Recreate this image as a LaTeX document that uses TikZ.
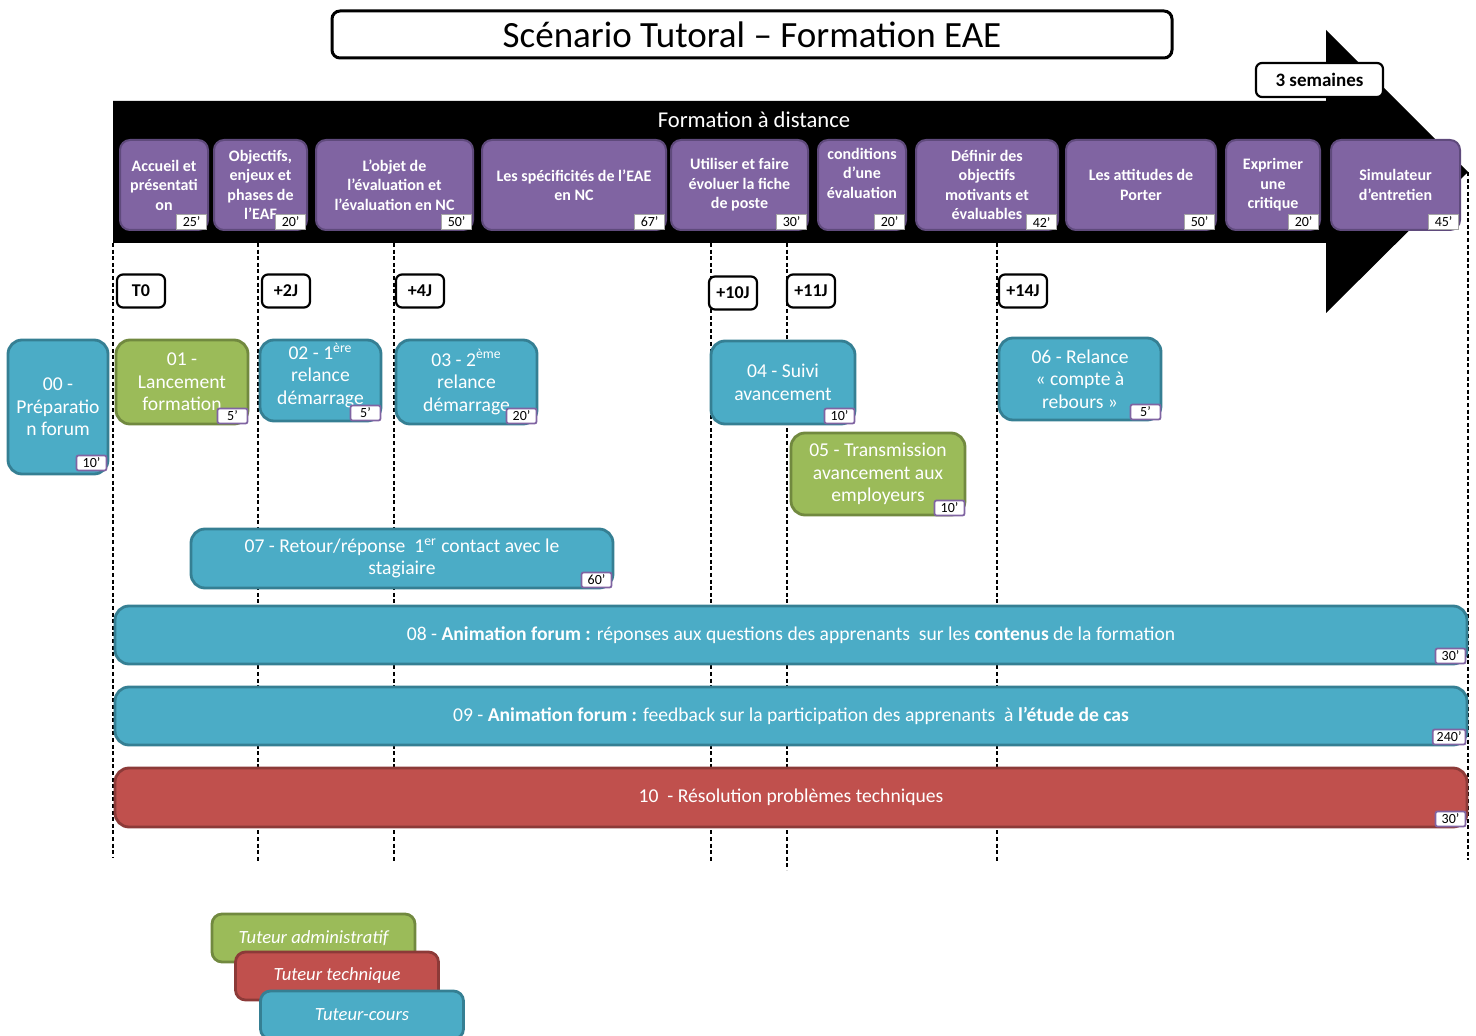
\documentclass[tikz,border=0pt]{standalone}
\usepackage{fontspec}
\setmainfont{Carlito}
\usepackage{tikz}
\usetikzlibrary{positioning}
\definecolor{violetM}{HTML}{8064A2}
\definecolor{violetB}{HTML}{5F4A7C}
\definecolor{bleuM}{HTML}{4BACC6}
\definecolor{bleuB}{HTML}{357F93}
\definecolor{vertM}{HTML}{9BBB59}
\definecolor{vertB}{HTML}{71893F}
\definecolor{rougeM}{HTML}{C0504D}
\definecolor{rougeB}{HTML}{8C3A38}
\tikzset{
  module/.style={rounded corners=5pt,fill=violetM,draw=violetB,line width=1pt,text=white,
    font=\bfseries\fontsize{8}{9.75}\selectfont,align=center,minimum height=45pt,inner sep=1pt},
  tache/.style={rounded corners=7pt,line width=1.4pt,text=white,
    font=\fontsize{9.8}{11.2}\selectfont,align=center,inner sep=1pt},
  bleu/.style={tache,fill=bleuM,draw=bleuB},
  vert/.style={tache,fill=vertM,draw=vertB},
  rouge/.style={tache,fill=rougeM,draw=rougeB},
  duree/.style={draw=violetM,fill=white,line width=0.9pt,font=\fontsize{7}{7.5}\selectfont,
    inner xsep=2pt,inner ysep=0.6pt,minimum width=15pt,minimum height=7.5pt,rounded corners=1pt,anchor=south east},
  dureeV/.style={duree,draw=gray!70,line width=0.4pt,rounded corners=0pt},
  jalon/.style={draw,fill=white,line width=1.1pt,rounded corners=3pt,
    font=\bfseries\fontsize{9}{10}\selectfont,minimum width=24pt,minimum height=16.5pt},
  legende/.style={rounded corners=5pt,line width=1.4pt,text=white,
    font=\itshape\fontsize{9.3}{11}\selectfont,minimum width=101.5pt,minimum height=24pt},
  repere/.style={dash pattern=on 2pt off 1.3pt,line width=0.6pt}
}

\begin{document}
\begin{tikzpicture}[x=0.5pt,y=-0.5pt]
\useasboundingbox (0,0) rectangle (1476,1036);

\node[draw,line width=1.5pt,rounded corners=4pt,minimum width=420pt,minimum height=23.5pt,
  font=\fontsize{18.5}{20}\selectfont] (titre) at (752,34.5) {Scénario Tutoral -- Formation EAE};

\fill (113,101)--(1326,101)--(1326,30)--(1468,172)--(1326,313)--(1326,243)--(113,243)--cycle;
\node[text=white,font=\fontsize{11.3}{13}\selectfont] (fad) at (754,120) {Formation à distance};
\node[jalon,minimum width=63.5pt,minimum height=17pt,font=\bfseries\fontsize{9.5}{11}\selectfont] (sem) at (1319.5,80) {3 semaines};

\foreach \x/\y in {113/858,258/862,394/862,711/862,787/870,997/862}
  \draw[repere] (\x,243) -- (\x,\y);
\draw[repere] (1468,172) -- (1468,860);

\node[module,minimum width=44pt] (m1) at (164,185) {Accueil et\\présentati\\on};
\node[module,minimum width=46.5pt] (m2) at (260.5,185) {Objectifs,\\enjeux et\\phases de\\l’EAF};
\node[module,minimum width=78.5pt] (m3) at (394.5,185) {L’objet de\\l’évaluation et\\l’évaluation en NC};
\node[module,minimum width=92pt] (m4) at (574,185) {Les spécificités de l’EAE\\en NC};
\node[module,minimum width=68.5pt] (m5) at (739.5,185) {Utiliser et faire\\évoluer la fiche\\de poste};
\node[module,minimum width=44pt] (m6) at (862,185) {conditions\\d’une\\évaluation\\[2pt]};
\node[module,minimum width=71pt] (m7) at (987,185) {Définir des\\objectifs\\motivants et\\évaluables};
\node[module,minimum width=75pt] (m8) at (1141,185) {Les attitudes de\\Porter};
\node[module,minimum width=47pt] (m9) at (1273,185) {Exprimer\\une\\critique};
\node[module,minimum width=64.5pt] (m10) at (1395.5,185) {Simulateur\\d’entretien};
\node[dureeV] (dm1) at ([xshift=-1pt,yshift=0.5pt]m1.south east) {25’};
\node[dureeV] (dm2) at ([xshift=-1pt,yshift=0.5pt]m2.south east) {20’};
\node[dureeV] (dm3) at ([xshift=-1pt,yshift=0.5pt]m3.south east) {50’};
\node[dureeV] (dm4) at ([xshift=-1pt,yshift=0.5pt]m4.south east) {67’};
\node[dureeV] (dm5) at ([xshift=-1pt,yshift=0.5pt]m5.south east) {30’};
\node[dureeV] (dm6) at ([xshift=-1pt,yshift=0.5pt]m6.south east) {20’};
\node[dureeV] (dm7) at ([xshift=-1pt,yshift=0.5pt]m7.south east) {42’};
\node[dureeV] (dm8) at ([xshift=-1pt,yshift=0.5pt]m8.south east) {50’};
\node[dureeV] (dm9) at ([xshift=-1pt,yshift=0.5pt]m9.south east) {20’};
\node[dureeV] (dm10) at ([xshift=-1pt,yshift=0.5pt]m10.south east) {45’};

\node[jalon] (j0) at (141,291) {T0};
\node[jalon] (j2) at (286,291) {+2J};
\node[jalon] (j4) at (420,291) {+4J};
\node[jalon] (j10) at (733,293) {+10J};
\node[jalon] (j11) at (811,291) {+11J};
\node[jalon] (j14) at (1023,291) {+14J};

\node[bleu,minimum width=50pt,minimum height=67pt] (t00) at (58,407) {00 -\\Préparatio\\n forum};
\node[vert,minimum width=66pt,minimum height=42pt] (t01) at (182,382) {01 -\\Lancement\\formation};
\node[bleu,minimum width=60.5pt,minimum height=40.5pt,text depth=7pt] (t02) at (320.5,380.5) {02 - 1\textsuperscript{ère}\\relance\\démarrage};
\node[bleu,minimum width=70.5pt,minimum height=42pt] (t03) at (466.5,382) {03 - 2\textsuperscript{ème}\\relance\\démarrage};
\node[bleu,minimum width=72pt,minimum height=41.5pt] (t04) at (783,382.5) {04 - Suivi\\avancement};
\node[vert,minimum width=87pt,minimum height=41pt] (t05) at (878,474) {05 - Transmission\\avancement aux\\employeurs};
\node[bleu,minimum width=81pt,minimum height=41pt] (t06) at (1080,379) {06 - Relance\\« compte à\\rebours »};
\node[bleu,minimum width=211pt,minimum height=29.5pt] (t07) at (402,558.5) {07 - Retour/réponse\ \ 1\textsuperscript{er} contact avec le\\stagiaire};
\node[bleu,minimum width=676pt,minimum height=29pt] (t08) at (791,635) {08 - \textbf{Animation forum :} réponses aux questions des apprenants\ \ sur les \textbf{contenus} de la formation};
\node[bleu,minimum width=676pt,minimum height=29pt] (t09) at (791,716) {09 - \textbf{Animation forum :} feedback sur la participation des apprenants\ \ à \textbf{l’étude de cas}};
\node[rouge,minimum width=676pt,minimum height=29.5pt] (t10) at (791,797.5) {10\ \ - Résolution problèmes techniques};
\node[duree] (d00) at ([xshift=-1pt,yshift=2pt]t00.south east) {10’};
\node[duree] (d01) at ([xshift=-0.5pt,yshift=0.5pt]t01.south east) {5’};
\node[duree] (d02) at ([xshift=-0.5pt,yshift=0.5pt]t02.south east) {5’};
\node[duree] (d03) at ([xshift=-0.5pt,yshift=0.5pt]t03.south east) {20’};
\node[duree] (d04) at ([xshift=-0.5pt,yshift=0.5pt]t04.south east) {10’};
\node[duree] (d05) at ([xshift=-0.5pt,yshift=0pt]t05.south east) {10’};
\node[duree] (d06) at ([xshift=-0.5pt,yshift=0.5pt]t06.south east) {5’};
\node[duree] (d07) at ([xshift=-1pt,yshift=0.5pt]t07.south east) {60’};
\node[duree] (d08) at ([xshift=-1pt,yshift=0.5pt]t08.south east) {30’};
\node[duree] (d09) at ([xshift=-1pt,yshift=0.5pt]t09.south east) {240’};
\node[duree] (d10) at ([xshift=-1pt,yshift=0.5pt]t10.south east) {30’};

\node[legende,fill=vertM,draw=vertB] (lg1) at (313.5,938) {Tuteur administratif};
\node[legende,fill=rougeM,draw=rougeB] (lg2) at (337,976) {Tuteur technique};
\node[legende,fill=bleuM,draw=bleuB] (lg3) at (362,1015) {Tuteur-cours};
\end{tikzpicture}
\end{document}
